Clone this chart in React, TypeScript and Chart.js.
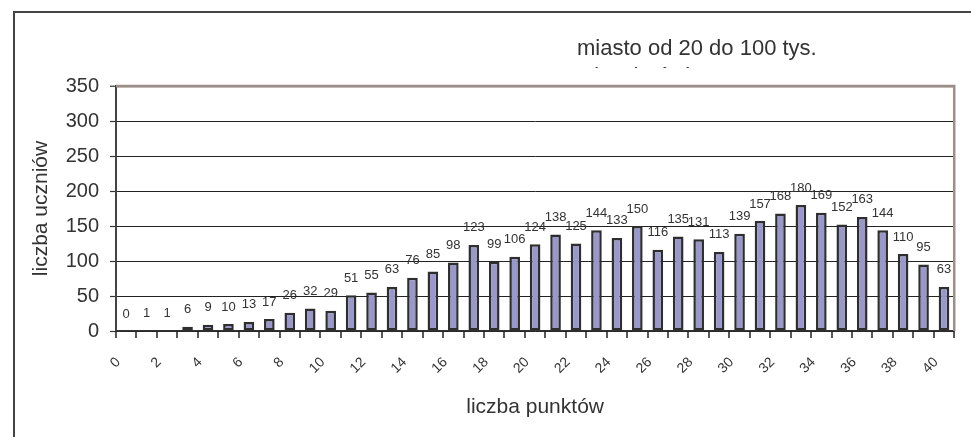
import { useEffect, useRef } from "react";
import { Chart, registerables } from "chart.js";

Chart.register(...registerables);

const points = [
  "0", "1", "2", "3", "4", "5", "6", "7", "8", "9", "10",
  "11", "12", "13", "14", "15", "16", "17", "18", "19", "20",
  "21", "22", "23", "24", "25", "26", "27", "28", "29", "30",
  "31", "32", "33", "34", "35", "36", "37", "38", "39", "40",
];

const students = [
  0, 1, 1, 6, 9, 10, 13, 17, 26, 32, 29,
  51, 55, 63, 76, 85, 98, 123, 99, 106, 124,
  138, 125, 144, 133, 150, 116, 135, 131, 113, 139,
  157, 168, 180, 169, 152, 163, 144, 110, 95, 63,
];

const titleLines = ["miasto od 20 do 100 tys.", "mieszkańców"];
const yAxisTitle = "liczba uczniów";
const xAxisTitle = "liczba punktów";
const yMin = 0;
const yMax = 350;
const yStep = 50;

const FONT = "'Liberation Sans', Arial, Helvetica, sans-serif";
const TEXT = "#333333";
const FRAME = "#9a8f8a";

const decorPlugin = {
  id: "decor",
  beforeDraw(chart: any) {
    const { ctx } = chart;
    ctx.save();
    ctx.fillStyle = "#ffffff";
    ctx.fillRect(0, 0, chart.width, chart.height);
    ctx.strokeStyle = "#444444";
    ctx.lineWidth = 2;
    ctx.beginPath();
    ctx.moveTo(14, chart.height);
    ctx.lineTo(14, 12);
    ctx.lineTo(chart.width, 12);
    ctx.stroke();
    ctx.fillStyle = TEXT;
    ctx.font = `22px ${FONT}`;
    ctx.textAlign = "left";
    ctx.textBaseline = "alphabetic";
    ctx.fillText(titleLines[0], 577, 55);
    ctx.save();
    ctx.beginPath();
    ctx.rect(560, 60, 220, 8);
    ctx.clip();
    ctx.fillText(titleLines[1], 576, 83);
    ctx.restore();
    ctx.restore();
  },
  afterDraw(chart: any) {
    const { ctx, chartArea } = chart;
    ctx.save();
    ctx.strokeStyle = FRAME;
    ctx.lineWidth = 2.5;
    ctx.beginPath();
    ctx.moveTo(chartArea.left, chartArea.top);
    ctx.lineTo(chartArea.right, chartArea.top);
    ctx.lineTo(chartArea.right, chartArea.bottom);
    ctx.stroke();
    // x-axis tick marks at category boundaries
    const n = points.length;
    const step = (chartArea.right - chartArea.left) / n;
    ctx.fillStyle = "#222222";
    for (let i = 0; i <= n; i++) {
      const px = Math.round(chartArea.left + i * step);
      ctx.fillRect(px - 0.75, chartArea.bottom, 1.5, 7);
    }
    const meta = chart.getDatasetMeta(0);
    ctx.fillStyle = TEXT;
    ctx.font = `13px ${FONT}`;
    ctx.textAlign = "center";
    ctx.textBaseline = "middle";
    meta.data.forEach((bar: any, i: number) => {
      ctx.fillText(String(students[i]), bar.x, bar.y - 17);
    });
    ctx.restore();
  },
};

export default function App() {
  const ref = useRef<HTMLCanvasElement | null>(null);

  useEffect(() => {
    if (!ref.current) return;
    Chart.defaults.font.family = FONT;
    Chart.defaults.color = TEXT;
    const chart = new Chart(ref.current, {
      type: "bar",
      data: {
        labels: points,
        datasets: [
          {
            data: students,
            backgroundColor: "#9a97cb",
            borderColor: "#2e2e2e",
            borderWidth: 2.5,
            borderSkipped: false,
            categoryPercentage: 1,
            barPercentage: 0.52,
          },
        ],
      },
      options: {
        responsive: false,
        animation: false,
        events: [],
        layout: { padding: { top: 86, right: 10, bottom: 0, left: 0 } },
        plugins: {
          legend: { display: false },
          title: { display: false },
          tooltip: { enabled: false },
        },
        scales: {
          x: {
            offset: true,
            grid: {
              display: false,
            },
            border: { display: true, color: "#333333", width: 1.5 },
            ticks: {
              autoSkip: false,
              minRotation: 45,
              maxRotation: 45,
              padding: 15,
              labelOffset: -8,
              font: { size: 14 },
              color: TEXT,
              callback: (_v: any, i: number) => (i % 2 === 0 ? points[i] : ""),
            },
            title: {
              display: true,
              text: xAxisTitle,
              font: { size: 21 },
              color: TEXT,
              padding: { top: 0, bottom: 17 },
            },
            afterFit: (scale: any) => {
              scale.height = 106;
            },
          },
          y: {
            min: yMin,
            max: yMax,
            ticks: {
              stepSize: yStep,
              padding: 11,
              font: { size: 20 },
              color: TEXT,
            },
            grid: {
              drawTicks: true,
              tickLength: 6,
              tickColor: "#333333",
              tickWidth: 1.2,
              color: (c: any) => (c.tick && c.tick.value === yMax ? FRAME : "#222222"),
              lineWidth: (c: any) => (c.tick && c.tick.value === yMax ? 2.5 : 1),
            },
            border: { display: true, color: "#444444", width: 2 },
            title: {
              display: true,
              text: yAxisTitle,
              font: { size: 21 },
              color: TEXT,
              padding: { top: 29, bottom: 0 },
            },
            afterFit: (scale: any) => {
              scale.width = 116;
            },
          },
        },
      },
      plugins: [decorPlugin],
    });
    return () => chart.destroy();
  }, []);

  return (
    <div style={{ position: "absolute", left: 0, top: 0, width: 971, height: 437 }}>
      <canvas ref={ref} width={971} height={437} />
    </div>
  );
}
